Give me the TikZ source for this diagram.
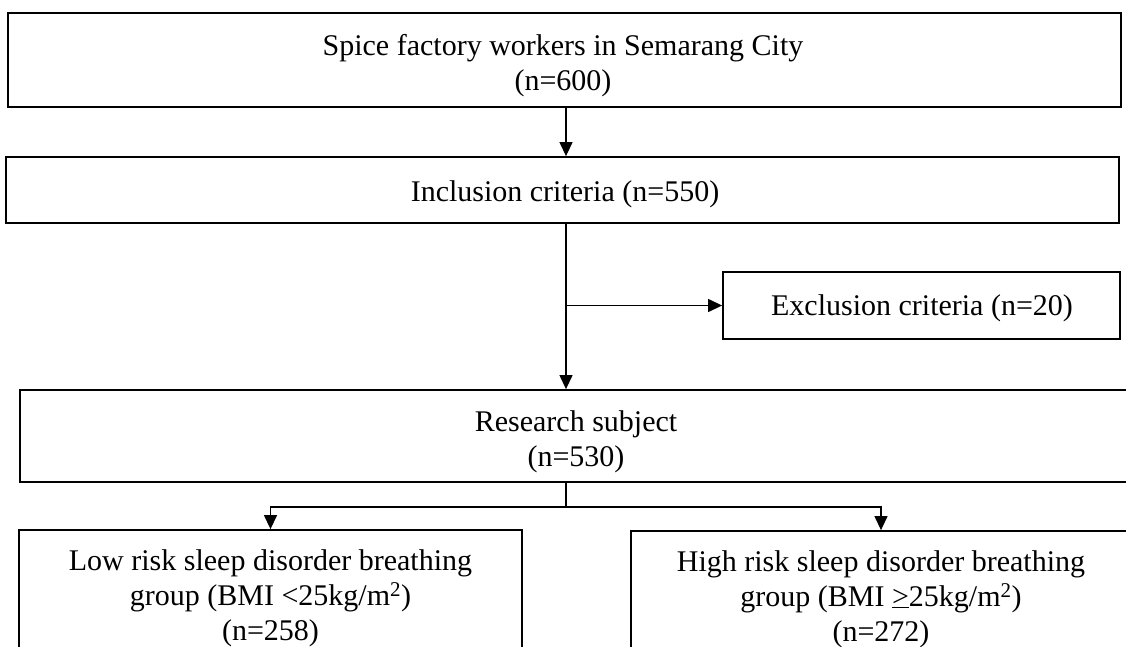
\documentclass[tikz,border=0pt]{standalone}
\usepackage{fontspec}
\setmainfont{Liberation Serif}
\usetikzlibrary{arrows.meta}
\tikzset{
  box/.style={draw, line width=1.8pt, inner sep=0pt},
  lbl/.style={align=center, font=\fontsize{30}{35}\selectfont, inner sep=0pt},
  arr/.style={line width=1.2pt, -{Triangle[width=13pt,length=14pt]}},
  con/.style={line width=1.2pt}
}
\begin{document}
\begin{tikzpicture}[x=1pt,y=-1pt]
\useasboundingbox (0,0) rectangle (1126,646);
\fill[white] (0,0) rectangle (1126,646);
\clip (0,0) rectangle (1126,646);
% boxes
\node[box, minimum width=1113pt, minimum height=94pt] (b1) at (564.5,60) {};
\node[lbl] (t1) at (563,66) {Spice factory workers in Semarang City\\(n=600)};
\node[box, minimum width=1113pt, minimum height=66pt] (b2) at (562.5,190) {};
\node[lbl] (t2) at (565,194) {Inclusion criteria (n=550)};
\node[box, minimum width=397pt, minimum height=67pt] (b3) at (921.5,305.5) {};
\node[lbl] (t3) at (922,308) {Exclusion criteria (n=20)};
\node[box, minimum width=1114pt, minimum height=92pt] (b4) at (577,436) {};
\node[lbl] (t4) at (576,442) {Research subject\\(n=530)};
\node[box, minimum width=503pt, minimum height=132pt] (b5) at (270.5,596) {};
\node[lbl] (t5) at (270.5,598)
  {Low risk sleep disorder breathing\\group (BMI <25kg/m\textsuperscript{2})\\(n=258)};
\node[box, minimum width=500pt, minimum height=132pt] (b6) at (881,597) {};
\node[lbl] (t6) at (881,599)
  {High risk sleep disorder breathing\\group (BMI \underline{>}25kg/m\textsuperscript{2})\\(n=272)};
% connectors
\coordinate (trunk) at (566,0);
\coordinate (split) at (566,507);
\draw[arr] (b1.south -| trunk) -- (b2.north -| trunk);
\draw[arr] (b2.south -| trunk) -- (b4.north -| trunk);
\draw[arr] (b3.west -| trunk) -- (b3.west);
\draw[con] (b4.south -| trunk) -- (split);
\draw[arr] (split) -| (b5.north);
\draw[arr] (split) -| (b6.north);
\end{tikzpicture}
\end{document}
